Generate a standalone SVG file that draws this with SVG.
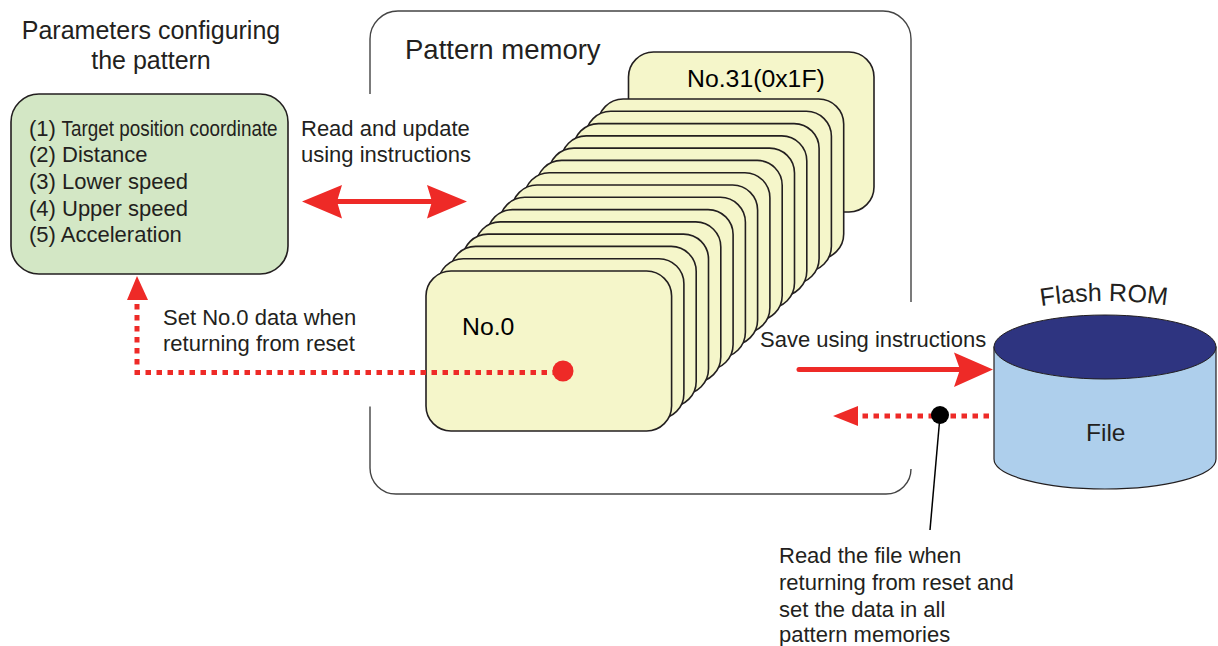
<svg xmlns="http://www.w3.org/2000/svg" width="1218" height="646" viewBox="0 0 1218 646">
<style>
text{font-family:"Liberation Sans",Arial,sans-serif;font-size:22px;fill:#231f20}
.card{fill:#f5f6ca;stroke:#231f20;stroke-width:1.6}
.red{stroke:#ee2a27;fill:none}
.dash{stroke-width:5;stroke-dasharray:5.500 5.500}
.ah{fill:#ee2a27}
.frame{fill:none;stroke:#444;stroke-width:1.4}
</style>
<defs><path id="arc" d="M1041 306Q1105 296 1172 306"/></defs>
<rect width="1218" height="646" fill="#fff"/>
<g id="frame">
<path class="frame" d="M370 94V39A28 28 0 0 1 398 11H883A28 28 0 0 1 911 39V302M911 469A25 25 0 0 1 886 494H396A26 26 0 0 1 370 468V406.500"/>
<text x="405" y="59" style="font-size:27.500px">Pattern memory</text>
</g>
<g id="params-title">
<text x="151" y="39" text-anchor="middle" style="font-size:25px">Parameters configuring</text>
<text x="151" y="69" text-anchor="middle" style="font-size:25px">the pattern</text>
</g>
<g id="params">
<rect x="11" y="94" width="277" height="180" rx="28" fill="#d3e7c5" stroke="#231f20" stroke-width="1.600"/>
<text x="29" y="136">(1) <tspan textLength="216" lengthAdjust="spacingAndGlyphs">Target position coordinate</tspan></text>
<text x="29" y="162">(2) Distance</text>
<text x="29" y="189">(3) Lower speed</text>
<text x="29" y="216">(4) Upper speed</text>
<text x="29" y="242">(5) Acceleration</text>
</g>
<g id="stack">
<g id="card31"><rect class="card" x="628.500" y="52" width="245.500" height="160" rx="25"/><text x="687" y="87" style="fill:#000;font-size:24.800px">No.31(0x1F)</text></g>
<rect class="card" x="598.100" y="99" width="245.600" height="160" rx="25"/>
<rect class="card" x="585.800" y="111.300" width="245.600" height="160" rx="25"/>
<rect class="card" x="573.500" y="123.600" width="245.600" height="160" rx="25"/>
<rect class="card" x="561.200" y="135.900" width="245.600" height="160" rx="25"/>
<rect class="card" x="548.900" y="148.100" width="245.600" height="160" rx="25"/>
<rect class="card" x="536.600" y="160.400" width="245.600" height="160" rx="25"/>
<rect class="card" x="524.300" y="172.700" width="245.600" height="160" rx="25"/>
<rect class="card" x="512" y="185" width="245.600" height="160" rx="25"/>
<rect class="card" x="499.800" y="197.300" width="245.600" height="160" rx="25"/>
<rect class="card" x="487.500" y="209.600" width="245.600" height="160" rx="25"/>
<rect class="card" x="475.200" y="221.900" width="245.600" height="160" rx="25"/>
<rect class="card" x="462.900" y="234.100" width="245.600" height="160" rx="25"/>
<rect class="card" x="450.600" y="246.400" width="245.600" height="160" rx="25"/>
<rect class="card" x="438.300" y="258.700" width="245.600" height="160" rx="25"/>
<g id="card0"><rect class="card" x="426" y="271" width="245.600" height="160" rx="25"/><text x="462" y="335" style="fill:#000;font-size:24.800px">No.0</text></g>
</g>
<g id="rom">
<path d="M994 347V459C994 476 1045 489 1105 489S1216 476 1216 459V347Z" fill="#aecfec" stroke="#231f20" stroke-width="1.200"/>
<ellipse cx="1105" cy="347" rx="111" ry="32" fill="#2e3480" stroke="#231f20" stroke-width="1"/>
<text x="1086" y="441" style="font-size:24.500px">File</text>
<text style="font-size:25px"><textPath href="#arc">Flash ROM</textPath></text>
</g>
<g id="connectors">
<path class="red" stroke-width="5" d="M330 201.500H440"/>
<path class="ah" d="M302 201.500L342 185L337 201.500L342 218.500ZM467 201.500L427 185L432 201.500L427 218.500Z"/>
<path class="red dash" d="M137 304V372.500H555"/>
<path class="ah" d="M137 276L148 300H127Z"/>
<circle cx="563" cy="371" r="10.500" fill="#ee2a27"/>
<path class="red" stroke-width="5" stroke-linecap="round" d="M799 369.500H960"/>
<path class="ah" d="M993 369.500L954 352.500L960 369.500L954 387Z"/>
<path class="red dash" d="M989 416H860"/>
<path class="ah" d="M833 416L858 406V426Z"/>
<path d="M940 416L930 530" stroke="#000" stroke-width="1.500"/>
<circle cx="940" cy="415" r="9" fill="#000"/>
</g>
<g id="labels">
<text x="301" y="136">Read and update</text>
<text x="301" y="162">using instructions</text>
<text x="163" y="325">Set No.0 data when</text>
<text x="163" y="351">returning from reset</text>
<text x="760" y="347">Save using instructions</text>
<text x="779" y="563">Read the file when</text>
<text x="779" y="590">returning from reset and</text>
<text x="779" y="616.500">set the data in all</text>
<text x="779" y="641.500">pattern memories</text>
</g>
</svg>
